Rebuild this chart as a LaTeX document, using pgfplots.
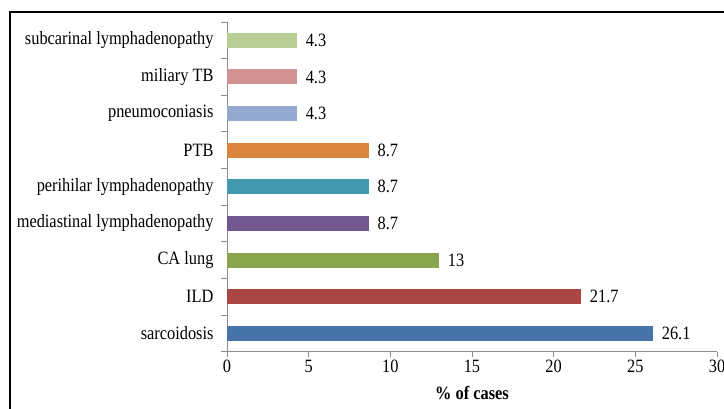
\documentclass[border=0pt]{standalone}
\usepackage{fontspec}
\setmainfont[FakeStretch=0.87]{Liberation Serif}
\usepackage{pgfplots}
\pgfplotsset{compat=1.18}
\definecolor{axisgray}{HTML}{8C8C8C}
\definecolor{cSar}{HTML}{4674A8}
\definecolor{cILD}{HTML}{AA4643}
\definecolor{cCA}{HTML}{89A54E}
\definecolor{cMed}{HTML}{71588F}
\definecolor{cPer}{HTML}{4198AF}
\definecolor{cPTB}{HTML}{DB843D}
\definecolor{cPne}{HTML}{93A9CF}
\definecolor{cMil}{HTML}{D19392}
\definecolor{cSub}{HTML}{B9CD96}
\newcommand{\lbl}{\fontsize{18.8}{20}\selectfont}
\begin{document}
\begin{tikzpicture}[x=1pt,y=1pt]
\useasboundingbox (0,0) rectangle (724,409);
\draw[line width=2.2pt] (10,-5) -- (10,397) -- (730,397);
\begin{axis}[
    at={(227pt,57.3pt)}, anchor=south west,
    width=490pt, height=329.7pt, scale only axis,
    xbar, bar width=15pt,
    xmin=0, xmax=30, ymin=-0.5, ymax=8.5,
    axis x line*=bottom, axis y line*=left,
    axis line style={draw=axisgray, line width=0.8pt},
    xtick={0,5,...,30},
    ytick={0,...,8},
    yticklabels={sarcoidosis, ILD, CA lung, mediastinal lymphadenopathy,
        perihilar lymphadenopathy, PTB, pneumoconiasis, miliary TB,
        subcarinal lymphadenopathy},
    minor ytick={-0.5,0.5,...,8.5},
    tick align=outside,
    major tick length=5pt, minor tick length=6pt,
    xtick style={draw=axisgray, line width=0.8pt},
    ytick style={draw=none},
    minor y tick style={draw=axisgray, line width=0.8pt},
    /pgf/number format/assume math mode=true,
    ticklabel style={font=\lbl},
    yticklabel style={xshift=-5pt},
    xlabel={\textbf{\% of cases}},
    xlabel style={font=\lbl, at={(axis description cs:0.5,-0.125)}, anchor=center},
    nodes near coords, point meta=x,
    every node near coord/.append style={font=\lbl, anchor=west, xshift=5pt},
    clip=false,
]
\addplot[fill=cSar, draw=none, bar shift=0pt] coordinates {(26.1,0)};
\addplot[fill=cILD, draw=none, bar shift=0pt] coordinates {(21.7,1)};
\addplot[fill=cCA,  draw=none, bar shift=0pt] coordinates {(13,2)};
\addplot[fill=cMed, draw=none, bar shift=0pt] coordinates {(8.7,3)};
\addplot[fill=cPer, draw=none, bar shift=0pt] coordinates {(8.7,4)};
\addplot[fill=cPTB, draw=none, bar shift=0pt] coordinates {(8.7,5)};
\addplot[fill=cPne, draw=none, bar shift=0pt] coordinates {(4.3,6)};
\addplot[fill=cMil, draw=none, bar shift=0pt] coordinates {(4.3,7)};
\addplot[fill=cSub, draw=none, bar shift=0pt] coordinates {(4.3,8)};
\end{axis}
\end{tikzpicture}
\end{document}
